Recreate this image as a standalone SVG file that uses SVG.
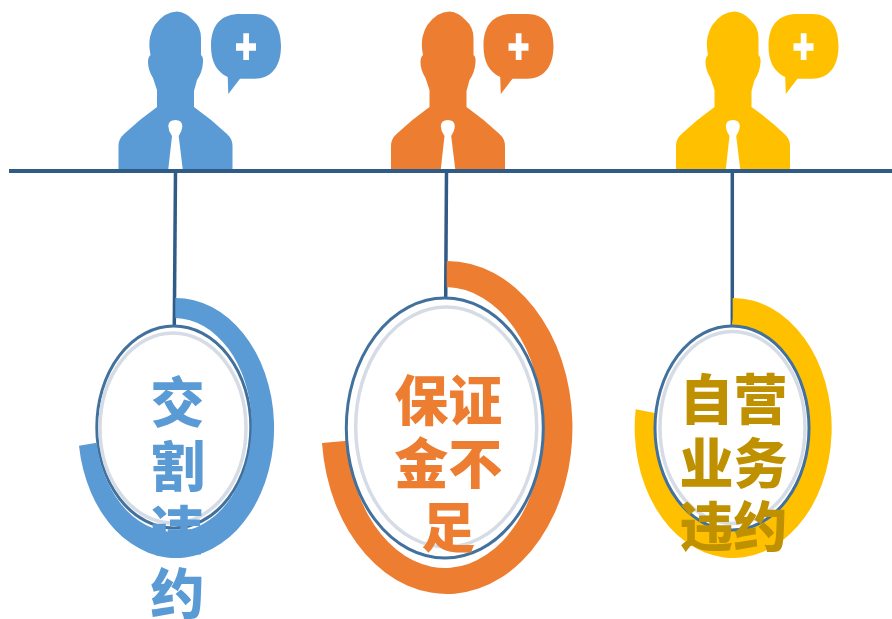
<svg xmlns="http://www.w3.org/2000/svg" width="892" height="619" viewBox="0 0 892 619">
<style>
.line{stroke:#2f5b86;fill:none}
.o1{fill:#fff;stroke:#41719c;stroke-width:3}
.o2{fill:none;stroke:#d6dce5;stroke-width:3.500}
.t{font-family:"Noto Sans CJK SC",sans-serif;font-weight:900;text-anchor:middle;font-size:54px}
.plus{fill:#fff}
</style>
<defs>
<g id="person">
<path d="M118.500 169V146Q118.500 139 124 134Q140 119 157 107V90L153 78Q148 70 148 62Q148 57 150.500 55Q148.500 45 150 37Q153 23 165 15Q171 11.500 177 11.500Q186 12 193 20Q201 27 201 38V55Q203.500 57 203 62Q202.500 72 197 80L194 91V107Q211 119 227 134Q232.500 139 232.500 146V169H182.700L178.700 136Q182.300 130 182.300 126Q182 120 175.500 120Q168.500 120 168.300 126Q168.300 131 172 136L168.300 169Z"/>
<path d="M211 46C211 24 222 14 240 14H255C272 14 281 26 281 46C281 68 270 78.700 255 78.700H240L228.300 94L227.700 77C217 72 211 62 211 46Z"/>
<path class="plus" d="M236 43.300H243.300V33.300H249V43.300H256V50.700H249V60H243.300V50.700H236Z"/>
</g>
</defs>
<g id="connectors">
<path class="line" stroke-width="4" d="M9 171H892"/>
<path class="line" stroke-width="3.500" d="M175.500 171L174.300 326"/>
<path class="line" stroke-width="3.500" d="M446.500 171L445.700 298"/>
<path class="line" stroke-width="3.500" d="M732.300 171V326"/>
</g>
<g id="node-blue">
<use href="#person" fill="#5b9bd5"/>
<ellipse class="o1" cx="173.800" cy="427" rx="77" ry="101"/>
<ellipse class="o2" cx="173" cy="428" rx="73" ry="95"/>
<text class="t" x="177.500" y="423" fill="#5b9bd5">交</text>
<text class="t" x="177.500" y="487" fill="#5b9bd5">割</text>
<text class="t" x="177.500" y="551" fill="#5b9bd5">违</text>
<text class="t" x="177.500" y="614" fill="#5b9bd5">约</text>
<path fill="#5b9bd5" d="M175.300 298A98 130 0 1 1 79 445.700L96.700 442.700A78 107 0 1 0 175.300 318Z"/>
</g>
<g id="node-orange">
<use href="#person" x="272.500" fill="#ed7d31"/>
<path fill="#ed7d31" d="M446.700 261A125.500 166.500 0 1 1 322 443L347.300 440.700A98 140.500 0 1 0 446.700 287Z"/>
<ellipse class="o1" cx="444.800" cy="428" rx="98.500" ry="130"/>
<ellipse class="o2" cx="446.200" cy="427" rx="90.500" ry="120"/>
<text class="t" x="448.300" y="421" fill="#ed7d31">保证</text>
<text class="t" x="448.300" y="484" fill="#ed7d31">金不</text>
<text class="t" x="448.300" y="548" fill="#ed7d31">足</text>
</g>
<g id="node-yellow">
<use href="#person" x="557.500" fill="#ffc000"/>
<path fill="#ffc000" d="M732.700 298A98.500 130 0 1 1 635.700 409.300L656 413.300A76.500 107 0 0 0 732.700 318.300Z"/>
<ellipse class="o1" cx="732" cy="428" rx="77" ry="102"/>
<ellipse class="o2" cx="732.500" cy="427.500" rx="72.500" ry="96"/>
<text class="t" x="733.500" y="420" fill="#bf9000">自营</text>
<text class="t" x="733.500" y="484" fill="#bf9000">业务</text>
<text class="t" x="733.500" y="547" fill="#bf9000">违约</text>
</g>
</svg>
